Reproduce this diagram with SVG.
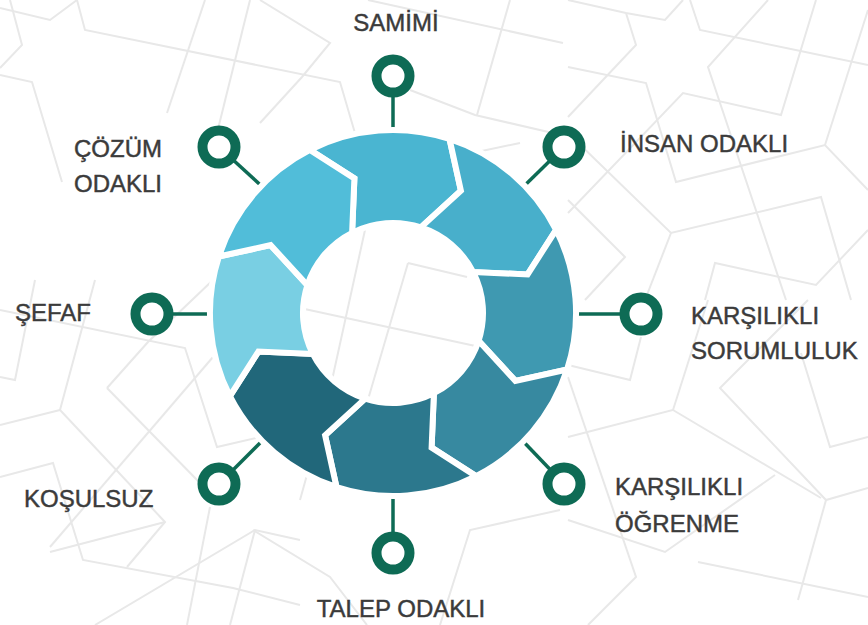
<svg xmlns="http://www.w3.org/2000/svg" width="868" height="625" viewBox="0 0 868 625">
  <style>
    .bg { fill: none; stroke: #e8e8e8; stroke-width: 2; stroke-linejoin: miter; }
    .seg { stroke: #ffffff; stroke-width: 6; stroke-linejoin: miter; }
    .conn { stroke: #0e6b55; stroke-width: 3.5; }
    .dot { fill: #ffffff; stroke: #0e6b55; stroke-width: 10; }
    .lbl { font-family: "Liberation Sans", Arial, sans-serif; font-size: 24px; fill: #3b3b3b; stroke: #3b3b3b; stroke-width: 0.45; }
  </style>
  <rect width="868" height="625" fill="#ffffff"/>
  <g id="background">
    <polyline class="bg" points="0,8 50,20 77,0"/>
    <polyline class="bg" points="77,0 85,30 340,82 357,140"/>
    <polyline class="bg" points="205,0 167,113"/>
    <polyline class="bg" points="250,0 217,133"/>
    <polyline class="bg" points="260,0 330,43 302,77 260,123"/>
    <polyline class="bg" points="0,75 32,82 62,182"/>
    <polyline class="bg" points="10,0 22,45 0,68"/>
    <polyline class="bg" points="368,0 563,43"/>
    <polyline class="bg" points="510,0 477,115"/>
    <polyline class="bg" points="410,90 475,115 570,137"/>
    <polyline class="bg" points="568,0 626,13 665,20 683,0"/>
    <polyline class="bg" points="626,13 636,45 568,117"/>
    <polyline class="bg" points="690,0 700,30 868,65"/>
    <polyline class="bg" points="768,0 708,67 786,300"/>
    <polyline class="bg" points="568,67 646,83 676,182 825,145 868,190"/>
    <polyline class="bg" points="825,145 868,10"/>
    <polyline class="bg" points="816,0 781,115 683,93 568,213"/>
    <polyline class="bg" points="568,200 625,257 585,300"/>
    <polyline class="bg" points="568,133 671,233 821,197 851,300"/>
    <polyline class="bg" points="671,233 645,300"/>
    <polyline class="bg" points="705,300 715,263 816,285 868,230"/>
    <polyline class="bg" points="568,365 630,380 641,337"/>
    <polyline class="bg" points="568,377 636,577 588,625"/>
    <polyline class="bg" points="568,437 673,410 708,300"/>
    <polyline class="bg" points="673,410 821,498"/>
    <polyline class="bg" points="808,300 720,388 826,500 868,488"/>
    <polyline class="bg" points="826,500 798,600"/>
    <polyline class="bg" points="801,353 830,447 868,437"/>
    <polyline class="bg" points="568,520 665,552 775,475"/>
    <polyline class="bg" points="698,562 868,597"/>
    <polyline class="bg" points="0,310 185,348 217,447 300,428"/>
    <polyline class="bg" points="35,280 15,380 0,377"/>
    <polyline class="bg" points="95,280 60,410 165,522 127,567"/>
    <polyline class="bg" points="0,425 60,410"/>
    <polyline class="bg" points="107,388 148,342 213,280"/>
    <polyline class="bg" points="107,388 200,483"/>
    <polyline class="bg" points="213,357 50,547"/>
    <polyline class="bg" points="0,477 53,463 83,560 233,588 300,605"/>
    <polyline class="bg" points="165,522 50,552"/>
    <polyline class="bg" points="95,625 255,530 300,540"/>
    <polyline class="bg" points="255,530 230,625"/>
    <polyline class="bg" points="210,507 187,625"/>
    <polyline class="bg" points="307,440 328,465 380,440"/>
    <polyline class="bg" points="253,530 330,577 367,625"/>
    <polyline class="bg" points="300,308 480,347"/>
    <polyline class="bg" points="365,230 327,403 300,500"/>
    <polyline class="bg" points="408,263 367,403 345,480"/>
    <polyline class="bg" points="408,263 467,277"/>
    <polyline class="bg" points="477,152 520,143"/>
    <polyline class="bg" points="440,625 470,530 560,510"/>
  </g>
  <g id="connectors">
    <line class="conn" x1="393" y1="76" x2="393" y2="145"/>
    <line class="conn" x1="564" y1="147" x2="519" y2="191"/>
    <line class="conn" x1="641" y1="314" x2="560" y2="314"/>
    <line class="conn" x1="564" y1="484" x2="519" y2="437"/>
    <line class="conn" x1="393" y1="553" x2="393" y2="480"/>
    <line class="conn" x1="219" y1="484" x2="266" y2="437"/>
    <line class="conn" x1="152" y1="314" x2="225" y2="314"/>
    <line class="conn" x1="219" y1="147" x2="266" y2="190"/>
  </g>
  <g id="ring">
    <path id="seg-samimi" class="seg" fill="#4ab5d1" d="M309.9,149.9 A183,183 0 0 1 449.5,138.9 L460.9,190.6 L420.8,227.4 A90,90 0 0 0 352.1,232.8 L354.4,178.4 Z"/>
    <path id="seg-insan" class="seg" fill="#48afcb" d="M449.5,138.9 A183,183 0 0 1 556.1,229.9 L527.6,274.4 L473.2,272.1 A90,90 0 0 0 420.8,227.4 L460.9,190.6 Z"/>
    <path id="seg-sorumluluk" class="seg" fill="#3f99b1" d="M556.1,229.9 A183,183 0 0 1 567.1,369.5 L515.4,380.9 L478.6,340.8 A90,90 0 0 0 473.2,272.1 L527.6,274.4 Z"/>
    <path id="seg-ogrenme" class="seg" fill="#3789a0" d="M567.1,369.5 A183,183 0 0 1 476.1,476.1 L431.6,447.6 L433.9,393.2 A90,90 0 0 0 478.6,340.8 L515.4,380.9 Z"/>
    <path id="seg-talep" class="seg" fill="#2c788d" d="M476.1,476.1 A183,183 0 0 1 336.5,487.1 L325.1,435.4 L365.2,398.6 A90,90 0 0 0 433.9,393.2 L431.6,447.6 Z"/>
    <path id="seg-kosulsuz" class="seg" fill="#21677a" d="M336.5,487.1 A183,183 0 0 1 229.9,396.1 L258.4,351.6 L312.8,353.9 A90,90 0 0 0 365.2,398.6 L325.1,435.4 Z"/>
    <path id="seg-sefaf" class="seg" fill="#79cfe3" d="M229.9,396.1 A183,183 0 0 1 218.9,256.5 L270.6,245.1 L307.4,285.2 A90,90 0 0 0 312.8,353.9 L258.4,351.6 Z"/>
    <path id="seg-cozum" class="seg" fill="#51bdd9" d="M218.9,256.5 A183,183 0 0 1 309.9,149.9 L354.4,178.4 L352.1,232.8 A90,90 0 0 0 307.4,285.2 L270.6,245.1 Z"/>
  </g>
  <g id="node-samimi">
    <circle class="dot" cx="393" cy="76" r="16.5"/>
    <text class="lbl" x="396" y="31" text-anchor="middle">SAMİMİ</text>
  </g>
  <g id="node-insan-odakli">
    <circle class="dot" cx="564" cy="147" r="16.5"/>
    <text class="lbl" x="620" y="152">İNSAN ODAKLI</text>
  </g>
  <g id="node-karsilikli-sorumluluk">
    <circle class="dot" cx="641" cy="314" r="16.5"/>
    <text class="lbl" x="691" y="324">KARŞILIKLI</text>
    <text class="lbl" x="691" y="359">SORUMLULUK</text>
  </g>
  <g id="node-karsilikli-ogrenme">
    <circle class="dot" cx="564" cy="484" r="16.5"/>
    <text class="lbl" x="615" y="495">KARŞILIKLI</text>
    <text class="lbl" x="615" y="532">ÖĞRENME</text>
  </g>
  <g id="node-talep-odakli">
    <circle class="dot" cx="393" cy="553" r="16.5"/>
    <text class="lbl" x="401" y="617" text-anchor="middle">TALEP ODAKLI</text>
  </g>
  <g id="node-kosulsuz">
    <circle class="dot" cx="219" cy="484" r="16.5"/>
    <text class="lbl" x="24" y="507">KOŞULSUZ</text>
  </g>
  <g id="node-sefaf">
    <circle class="dot" cx="152" cy="314" r="16.5"/>
    <text class="lbl" x="15" y="321">ŞEFAF</text>
  </g>
  <g id="node-cozum-odakli">
    <circle class="dot" cx="219" cy="147" r="16.5"/>
    <text class="lbl" x="162" y="157" text-anchor="end">ÇÖZÜM</text>
    <text class="lbl" x="162" y="192" text-anchor="end">ODAKLI</text>
  </g>
</svg>
